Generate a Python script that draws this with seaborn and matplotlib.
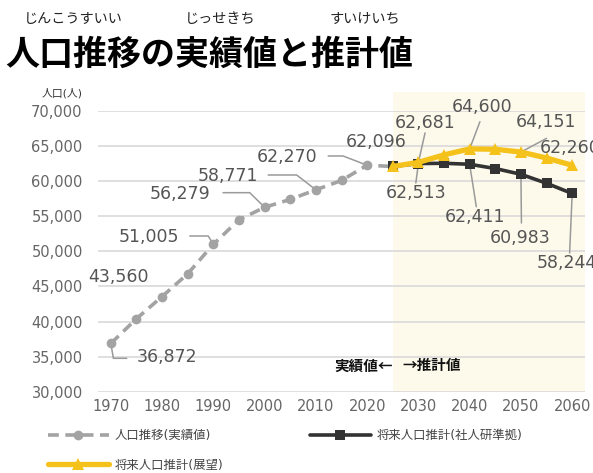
import matplotlib
matplotlib.use("Agg")
import matplotlib.pyplot as plt
import seaborn as sns

# 実績値 (5年ごと)
years_actual = [1970, 1975, 1980, 1985, 1990, 1995, 2000, 2005, 2010, 2015, 2020, 2025]
pop_actual = [36872, 40400, 43560, 46800, 51005, 54500, 56279, 57400, 58771, 60100, 62270, 62096]

# 推計値
years_future = [2025, 2030, 2035, 2040, 2045, 2050, 2055, 2060]
pop_ipss = [62096, 62513, 62550, 62411, 61800, 60983, 59700, 58244]
pop_vision = [62096, 62681, 63750, 64600, 64550, 64151, 63300, 62260]

y_ticks = [30000, 35000, 40000, 45000, 50000, 55000, 60000, 65000, 70000]
x_ticks = [1970, 1980, 1990, 2000, 2010, 2020, 2030, 2040, 2050, 2060]

sns.set_theme(style="whitegrid")
plt.rcParams['font.family'] = ['DejaVu Sans', 'Noto Sans CJK JP']

fig = plt.figure(figsize=(5.93, 4.73), dpi=100)
ax = fig.add_axes([98 / 593, 1 - 391.7 / 473, 487 / 593, 280.7 / 473])

# 推計期間の背景
ax.axvspan(2025, 2062.5, ymin=0, ymax=1.069, color='#fdf9eb', zorder=0, clip_on=False, lw=0)

sns.lineplot(x=years_actual, y=pop_actual, ax=ax, color='#a3a3a3', marker='o', markersize=7,
             markeredgewidth=0, linewidth=2.6, label='人口推移(実績値)', zorder=3)
gray_line = ax.lines[-1]
gray_line.set_dashes([3, 1.8])
sns.lineplot(x=years_future, y=pop_ipss, ax=ax, color='#333333', marker='s', markersize=6.8,
             markeredgewidth=0, linewidth=2.6, label='将来人口推計(社人研準拠)', zorder=4)
black_line = ax.lines[-1]
sns.lineplot(x=years_future, y=pop_vision, ax=ax, color='#f5c21b', marker='^', markersize=8.5,
             markeredgewidth=0, linewidth=3.8, label='将来人口推計(展望)', zorder=5)
yellow_line = ax.lines[-1]
ax.get_legend().remove()

ax.set_xlim(1967.5, 2062.5)
ax.set_ylim(30000, 70000)
ax.set_yticks(y_ticks)
ax.set_yticklabels([f'{v:,}' for v in y_ticks])
ax.set_xticks(x_ticks)
ax.grid(axis='x', visible=False)
ax.grid(axis='y', color='#d9d9d9', linewidth=1.2)
ax.set_facecolor('none')
for s in ax.spines.values():
    s.set_visible(False)
ax.tick_params(axis='y', length=0, pad=11, labelsize=10.5, labelcolor='#666666')
ax.tick_params(axis='x', length=0, pad=5, labelsize=10.5, labelcolor='#666666')
ax.set_xlabel('')
ax.set_ylabel('')


def note(x, y, txt, tx, ty, path=(), ha='center'):
    ax.text(tx, ty, txt, ha=ha, va='center', fontsize=12.5, color='#555555', zorder=6)
    if path:
        xs = [p[0] for p in path] + [x]
        ys = [p[1] for p in path] + [y]
        ax.plot(xs, ys, color='#9a9a9a', linewidth=1.1, zorder=2)


a = dict(zip(years_actual, pop_actual))
b = dict(zip(years_future, pop_ipss))
c = dict(zip(years_future, pop_vision))

note(1970, a[1970], f'{a[1970]:,}', 1980.9, 34900, [(1973.1, 34760), (1970.5, 34760)])
note(1980, a[1980], f'{a[1980]:,}', 1971.4, 46340)
note(1990, a[1990], f'{a[1990]:,}', 1977.4, 52090, [(1985.4, 52190), (1989.0, 52190)])
note(2000, a[2000], f'{a[2000]:,}', 1983.5, 58130, [(1991.9, 58360), (1997.1, 58360)])
note(2010, a[2010], f'{a[2010]:,}', 1992.75, 60780, [(2000.7, 60880), (2006.25, 60880)])
note(2020, a[2020], f'{a[2020]:,}', 2004.3, 63490, [(2012.4, 63590), (2015.3, 63590)])
note(2025, a[2025], f'{a[2025]:,}', 2021.8, 65620)

note(2030, c[2030], f'{c[2030]:,}', 2031.3, 68250, [(2031.3, 66880)])
note(2030, b[2030], f'{b[2030]:,}', 2029.5, 58270, [(2029.5, 59740)])
note(2040, c[2040], f'{c[2040]:,}', 2042.4, 70610, [(2042.0, 68470)])
note(2050, c[2050], f'{c[2050]:,}', 2054.9, 68470, [(2055.0, 66100)])
note(2060, c[2060], f'{c[2060]:,}', 2053.7, 64680, ha='left')
note(2040, b[2040], f'{b[2040]:,}', 2041.0, 54940, [(2041.3, 56360)])
note(2050, b[2050], f'{b[2050]:,}', 2049.9, 51860, [(2050.1, 54040)])
note(2060, b[2060], f'{b[2060]:,}', 2053.0, 48380, [(2059.5, 49760)], ha='left')

ax.text(2025, 33750, '実績値←', ha='right', va='center', fontsize=10.5, fontweight='bold',
        color='#111111', family=['Noto Sans CJK JP'])
ax.text(2026.8, 33750, '→推計値', ha='left', va='center', fontsize=10.5, fontweight='bold',
        color='#111111', family=['Noto Sans CJK JP'])

# タイトルとふりがな
fig.text(5 / 593, 1 - 54 / 473, '人口推移の実績値と推計値', ha='left', va='center', fontsize=24.5,
         fontweight='bold', color='#000000', family=['Noto Sans CJK JP'])
for kana, cx in [('じんこうすいい', 73.5), ('じっせきち', 220), ('すいけいち', 365)]:
    fig.text(cx / 593, 1 - 19 / 473, kana, ha='center', va='center', fontsize=10.2,
             color='#222222', family=['Noto Sans CJK JP'])
fig.text(62 / 593, 1 - 93 / 473, '人口(人)', ha='center', va='center', fontsize=7.8, color='#333333')

fig.legend(handles=[gray_line, yellow_line, black_line],
           labels=['人口推移(実績値)', '将来人口推計(展望)', '将来人口推計(社人研準拠)'],
           ncol=2, loc='upper left', bbox_to_anchor=(48 / 593, 1 - 429 / 473), frameon=False,
           fontsize=8.9, labelcolor='#444444', handlelength=4.9, handletextpad=0.5,
           columnspacing=7.0, labelspacing=1.35, borderpad=0, borderaxespad=0)

fig.savefig('out.png', dpi=100)
